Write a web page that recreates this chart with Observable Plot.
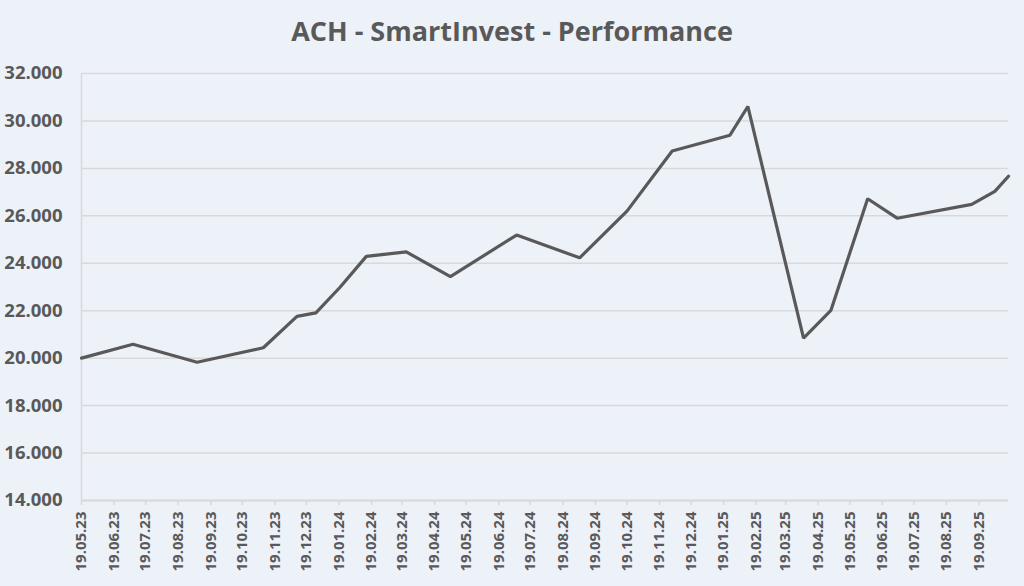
<!DOCTYPE html>
<html>
<head>
<meta charset="utf-8">
<script src="https://cdn.jsdelivr.net/npm/d3@7"></script>
<script src="https://cdn.jsdelivr.net/npm/@observablehq/plot@0.6"></script>
<style>
  html, body { margin: 0; padding: 0; background: #edf1f8; }
  body { width: 1024px; height: 586px; overflow: hidden; font-family: "Open Sans", sans-serif; }
  #title { height: 60px; line-height: 62px; text-align: center; font-size: 27px; font-weight: bold; color: #595959; }
  svg { display: block; }
</style>
</head>
<body>
<div id="title">ACH - SmartInvest - Performance</div>
<div id="chart"></div>
<script>
// Data
const dates = [
  "2023-05-19", "2023-07-07", "2023-09-06", "2023-11-08", "2023-12-10", "2023-12-28",
  "2024-01-20", "2024-02-14", "2024-03-23", "2024-05-04", "2024-07-06", "2024-09-04",
  "2024-10-19", "2024-12-01", "2025-01-25", "2025-02-11", "2025-04-05", "2025-05-01",
  "2025-06-05", "2025-07-03", "2025-09-12", "2025-10-04", "2025-10-17"
];
const values = [
  20000, 20590, 19830, 20440, 21760, 21910,
  22990, 24290, 24480, 23440, 25190, 24230,
  26200, 28730, 29400, 30610, 20840, 22010,
  26720, 25900, 26480, 27030, 27670
];
const xTickLabels = [
  "19.05.23", "19.06.23", "19.07.23", "19.08.23", "19.09.23", "19.10.23", "19.11.23",
  "19.12.23", "19.01.24", "19.02.24", "19.03.24", "19.04.24", "19.05.24", "19.06.24",
  "19.07.24", "19.08.24", "19.09.24", "19.10.24", "19.11.24", "19.12.24", "19.01.25",
  "19.02.25", "19.03.25", "19.04.25", "19.05.25", "19.06.25", "19.07.25", "19.08.25",
  "19.09.25"
];
const yTicks = [14000, 16000, 18000, 20000, 22000, 24000, 26000, 28000, 30000, 32000];

const parseTick = d3.utcParse("%d.%m.%y");
const fmtTick = d3.utcFormat("%d.%m.%y");
const data = dates.map((d, i) => ({ date: new Date(d + "T00:00:00Z"), value: values[i] }));
const xTicks = xTickLabels.map(parseTick);
const de = d3.formatLocale({ decimal: ",", thousands: ".", grouping: [3], currency: ["", " €"] });
const fmtY = de.format(",.0f");

const gridColor = "#d9d9d9";
const textColor = "#595959";

const chart = Plot.plot({
  width: 1024,
  height: 526,
  marginTop: 13,
  marginBottom: 86,
  marginLeft: 81,
  marginRight: 16,
  style: { background: "#edf1f8", fontFamily: "'Open Sans', sans-serif" },
  x: { type: "utc", domain: [data[0].date, data[data.length - 1].date] },
  y: { domain: [14000, 32000] },
  marks: [
    Plot.ruleY(yTicks, { stroke: gridColor, strokeWidth: 1.5 }),
    Plot.ruleX([data[0].date], { stroke: gridColor, strokeWidth: 1.5 }),
    Plot.ruleY([14000], { stroke: gridColor, strokeWidth: 2 }),
    Plot.axisY({
      ticks: yTicks, tickSize: 0, tickPadding: 19, tickFormat: fmtY,
      fill: textColor, fontSize: 18.5, fontWeight: "bold", label: null
    }),
    Plot.axisX({
      ticks: xTicks, tickSize: 5, tickPadding: 6, tickFormat: fmtTick, tickRotate: -90,
      stroke: gridColor, strokeWidth: 1.5, fill: textColor, fontSize: 15, fontWeight: "bold", label: null
    }),
    Plot.line(data, { x: "date", y: "value", stroke: "#595959", strokeWidth: 3.2, strokeLinejoin: "miter" })
  ]
});
document.getElementById("chart").appendChild(chart);
</script>
</body>
</html>
